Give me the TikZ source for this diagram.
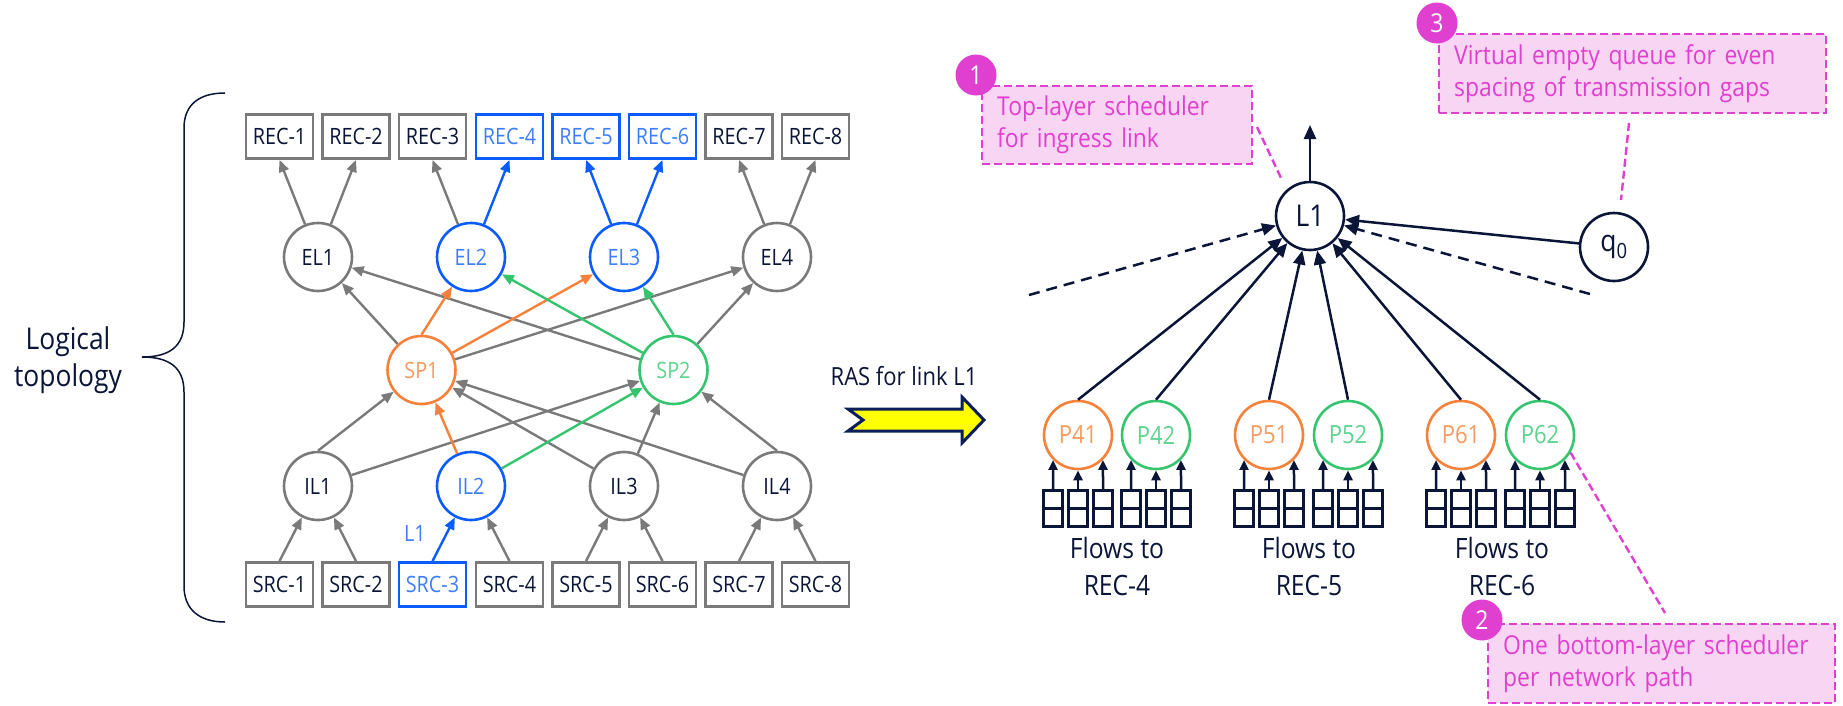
\documentclass[tikz,border=0pt]{standalone}
\usepackage{fontspec}
\setmainfont{Open Sans}[FakeStretch=0.88]
\usetikzlibrary{arrows.meta,calc}

\definecolor{navy}{HTML}{0B1538}
\definecolor{tgray}{HTML}{7A7A7A}
\definecolor{tblue}{HTML}{0A5CFF}
\definecolor{tbluetext}{HTML}{3D7EFF}
\definecolor{torange}{HTML}{F5813A}
\definecolor{torangetext}{HTML}{F79B5E}
\definecolor{tgreen}{HTML}{35C56F}
\definecolor{tgreentext}{HTML}{5ED38E}
\definecolor{mag}{HTML}{E040CF}
\definecolor{magfill}{HTML}{F8D5F3}
\definecolor{arrowyellow}{HTML}{FFFF00}
\definecolor{arrownavy}{HTML}{0A1F5C}

\newcommand\topofont{\fontsize{22.5}{26}\selectfont}
\newcommand\schedfont{\fontsize{25}{28}\selectfont}
\newcommand\linkfont{\fontsize{30}{32}\selectfont}
\newcommand\bigfont{\fontsize{30}{37}\selectfont}
\newcommand\flowfont{\fontsize{28}{37}\selectfont}
\newcommand\callfont{\fontsize{26}{32}\selectfont}
\newcommand\badgefont{\fontsize{26}{26}\selectfont}
\newcommand\rasfont{\fontsize{25}{30}\selectfont}

\tikzset{
  box/.style={rectangle, draw=tgray, line width=2.8pt, fill=white,
    minimum width=67pt, minimum height=44pt, inner sep=0pt,
    font=\topofont, text=navy},
  ring/.style={circle, draw=tgray, line width=2.6pt, fill=white,
    minimum size=68pt, inner sep=0pt, font=\topofont, text=navy},
  blueitem/.style={draw=tblue, text=tbluetext},
  orangeitem/.style={draw=torange, text=torangetext},
  greenitem/.style={draw=tgreen, text=tgreentext},
  garrow/.style={draw=tgray, line width=2.4pt, -{Triangle[length=12pt,width=10pt]}},
  barrow/.style={garrow, draw=tblue},
  oarrow/.style={garrow, draw=torange},
  grarrow/.style={garrow, draw=tgreen},
  sched/.style={circle, draw=navy, line width=2.6pt, fill=white,
    minimum size=68pt, inner sep=0pt, font=\schedfont, text=navy},
  bigsched/.style={sched, font=\linkfont},
  narrow/.style={draw=navy, line width=2.5pt, -{Triangle[length=14pt,width=12pt]}},
  ndashed/.style={narrow, dash pattern=on 11pt off 7pt},
  qarrow/.style={draw=navy, line width=2.5pt, -{Triangle[length=10pt,width=9pt]}},
  queue/.style={rectangle, draw=navy, line width=2.6pt, fill=white,
    minimum width=19.5pt, minimum height=36.5pt, inner sep=0pt,
    path picture={\draw[navy, line width=2.6pt]
      (path picture bounding box.west) -- (path picture bounding box.east);}},
  flowtext/.style={align=center, font=\flowfont, text=navy},
  callout/.style={rectangle, draw=mag, fill=magfill, line width=2.4pt,
    dash pattern=on 8pt off 4pt, text=mag, font=\callfont, align=left,
    inner xsep=15pt, inner ysep=0pt, anchor=north west},
  badge/.style={circle, fill=mag, text=white, minimum size=41pt,
    inner sep=0pt, font=\badgefont},
  calline/.style={draw=mag, line width=2.4pt, dash pattern=on 8pt off 4pt},
}

\begin{document}
\begin{tikzpicture}[x=1pt,y=-1pt]
\useasboundingbox (0,0) rectangle (1843,705);

% ---------- brace and caption ----------
\draw[navy, line width=1.5pt]
  (225,93) .. controls (200,93) and (184,104) .. (184,128) -- (184,322)
  .. controls (184,346) and (170,357) .. (142,357)
  .. controls (170,357) and (184,368) .. (184,392) -- (184,586)
  .. controls (184,610) and (200,622) .. (225,622);
\node[align=center, font=\bigfont, text=navy] (caption) at (68,360) {Logical\\topology};

% ---------- logical topology ----------
\node[box] (REC1) at (279.5,136.5) {REC-1};
\node[box] (REC2) at (356,136.5) {REC-2};
\node[box] (REC3) at (432.5,136.5) {REC-3};
\node[box, blueitem] (REC4) at (509.5,136.5) {REC-4};
\node[box, blueitem] (REC5) at (586,136.5) {REC-5};
\node[box, blueitem] (REC6) at (662.5,136.5) {REC-6};
\node[box] (REC7) at (739,136.5) {REC-7};
\node[box] (REC8) at (815.5,136.5) {REC-8};

\node[ring] (EL1) at (318,257) {EL1};
\node[ring, blueitem] (EL2) at (471,257) {EL2};
\node[ring, blueitem] (EL3) at (624,257) {EL3};
\node[ring] (EL4) at (777,257) {EL4};

\node[ring, orangeitem] (SP1) at (421.5,370) {SP1};
\node[ring, greenitem] (SP2) at (673.5,370) {SP2};

\node[ring] (IL1) at (318,486) {IL1};
\node[ring, blueitem] (IL2) at (471,486) {IL2};
\node[ring] (IL3) at (624,486) {IL3};
\node[ring] (IL4) at (777,486) {IL4};

\node[box] (SRC1) at (279.5,584.5) {SRC-1};
\node[box] (SRC2) at (356,584.5) {SRC-2};
\node[box, blueitem] (SRC3) at (432.5,584.5) {SRC-3};
\node[box] (SRC4) at (509.5,584.5) {SRC-4};
\node[box] (SRC5) at (586,584.5) {SRC-5};
\node[box] (SRC6) at (662.5,584.5) {SRC-6};
\node[box] (SRC7) at (739,584.5) {SRC-7};
\node[box] (SRC8) at (815.5,584.5) {SRC-8};

% edge leaves to receivers
\draw[garrow] (EL1) -- (REC1.south);
\draw[garrow] (EL1) -- (REC2.south);
\draw[garrow] (EL2) -- (REC3.south);
\draw[garrow] (EL4) -- (REC7.south);
\draw[garrow] (EL4) -- (REC8.south);
\draw[barrow] (EL2) -- (REC4.south);
\draw[barrow] (EL3) -- (REC5.south);
\draw[barrow] (EL3) -- (REC6.south);

% spines to edge leaves
\draw[garrow] (SP1) -- (EL1);
\draw[garrow] (SP1) -- (EL4);
\draw[garrow] (SP2) -- (EL1);
\draw[garrow] (SP2) -- (EL4);
\draw[oarrow] (SP1.north) -- (EL2);
\draw[oarrow] (SP1) -- (EL3);
\draw[grarrow] (SP2) -- (EL2);
\draw[grarrow] (SP2.north) -- (EL3);

% ingress leaves to spines
\draw[garrow] (IL1.north) -- (SP1);
\draw[garrow] (IL1) -- (SP2);
\draw[garrow] (IL3) -- (SP1);
\draw[garrow] (IL3) -- (SP2);
\draw[garrow] (IL4) -- (SP1);
\draw[garrow] (IL4.north) -- (SP2);
\draw[oarrow] (IL2) -- (SP1);
\draw[grarrow] (IL2) -- (SP2);

% sources to ingress leaves
\draw[garrow] (SRC1.north) -- (IL1);
\draw[garrow] (SRC2.north) -- (IL1);
\draw[garrow] (SRC4.north) -- (IL2);
\draw[garrow] (SRC5.north) -- (IL3);
\draw[garrow] (SRC6.north) -- (IL3);
\draw[garrow] (SRC7.north) -- (IL4);
\draw[garrow] (SRC8.north) -- (IL4);
\draw[barrow] (SRC3.north) -- (IL2);
\node[font=\topofont, text=tbluetext] (linklabel) at (415,533) {L1};

% ---------- transformation arrow ----------
\node[font=\rasfont, text=navy] (ras) at (904,376) {RAS for link L1};
\draw[draw=arrownavy, fill=arrowyellow, line width=3pt, line join=miter]
  (848,409) -- (962,409) -- (962,397) -- (984,420) -- (962,443)
  -- (962,431) -- (848,431) -- (863,420) -- cycle;

% ---------- RAS scheduler tree ----------
\node[bigsched] (L1) at (1310,216) {L1};
\node[bigsched] (q0) at (1614,247) {q\textsubscript{0}};
\coordinate (L1out) at (1310,125);
\coordinate (leftmore) at (1029,295);
\coordinate (rightmore) at (1590,294);

\node[sched, orangeitem] (P41) at (1078,435) {P41};
\node[sched, greenitem] (P42) at (1156,435) {P42};
\node[sched, orangeitem] (P51) at (1269,435) {P51};
\node[sched, greenitem] (P52) at (1348,435) {P52};
\node[sched, orangeitem] (P61) at (1461,435) {P61};
\node[sched, greenitem] (P62) at (1540,435) {P62};

\draw[narrow] (L1) -- (L1out);
\draw[narrow] (q0) -- (L1);
\draw[ndashed] (leftmore) -- (L1);
\draw[ndashed] (rightmore) -- (L1);
\foreach \p in {41,42,51,52,61,62}{
  \draw[narrow] (P\p.north) -- (L1);
}

% per-flow queues feeding each path scheduler
\foreach \p/\x in {41/1078,42/1156,51/1269,52/1348,61/1461,62/1540}{
  \node[queue] (Q\p a) at (\x-25,508.5) {};
  \node[queue] (Q\p b) at (\x,508.5) {};
  \node[queue] (Q\p c) at (\x+25,508.5) {};
  \draw[qarrow] (Q\p a.north) -- (P\p.-135);
  \draw[qarrow] (Q\p b.north) -- (P\p.south);
  \draw[qarrow] (Q\p c.north) -- (P\p.-45);
}

\node[flowtext] (flows4) at (1117,566) {Flows to\\REC-4};
\node[flowtext] (flows5) at (1309,566) {Flows to\\REC-5};
\node[flowtext] (flows6) at (1502,566) {Flows to\\REC-6};

% ---------- annotations ----------
\coordinate (c1a) at (1257,127);
\coordinate (c1b) at (1281,178);
\draw[calline] (c1a) -- (c1b);
\node[callout, text width=240pt, minimum height=78pt] (c1) at (981,85)
  {Top-layer scheduler\\for ingress link};
\node[badge] (b1) at (976,75) {1};

\coordinate (c3a) at (1629,123);
\coordinate (c3b) at (1621,200);
\draw[calline] (c3a) -- (c3b);
\node[callout, text width=357pt, minimum height=79pt] (c3) at (1438,33)
  {Virtual empty queue for even\\spacing of transmission gaps};
\node[badge] (b3) at (1437,23) {3};

\coordinate (c2a) at (1665,613);
\draw[calline] (P62.-30) -- (c2a);
\node[callout, text width=317pt, minimum height=79pt] (c2) at (1487,623)
  {One bottom-layer scheduler\\per network path};
\node[badge] (b2) at (1482,620) {2};

\end{tikzpicture}
\end{document}
